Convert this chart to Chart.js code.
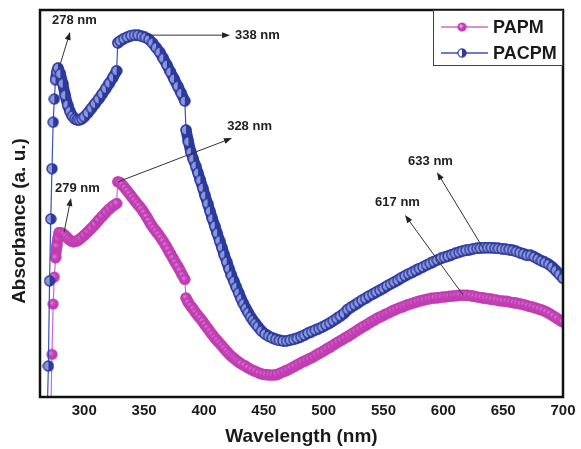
<!DOCTYPE html>
<html>
<head>
<meta charset="utf-8">
<script src="https://cdn.jsdelivr.net/npm/chart.js@4/dist/chart.umd.min.js"></script>
<style>
  html, body { margin: 0; padding: 0; background: #fff; }
  #wrap { width: 581px; height: 449px; }
</style>
</head>
<body>
<div id="wrap"><canvas id="uvChart" width="581" height="449"></canvas></div>
<script>
const seriesNames = ['PAPM', 'PACPM'];
const wavelengthTicks = [300, 350, 400, 450, 500, 550, 600, 650, 700];

// PAPM (pink)
const papmX = [272, 273, 274, 275, 276, 277, 278, 279, 281, 283, 285, 287, 289, 291, 293, 295, 297, 300, 303, 306, 309, 312, 315, 318, 321, 324, 327,
  328, 330, 332, 334, 336, 338, 340, 342, 344, 346, 348, 350, 352, 354, 356, 358, 360, 362, 364, 366, 368, 370, 372, 374, 376, 378, 380, 382, 384,
  385, 387, 389, 391, 393, 395, 397, 399, 401, 403, 405, 407, 409, 411, 413, 415, 417, 419, 421, 423, 425, 427, 429, 431, 434, 437, 440, 443, 446, 449,
  452, 455, 458, 461, 464, 467, 470, 473, 476, 479, 482, 485, 488, 491, 494, 497, 500, 503, 506, 509, 512, 515, 518, 521, 524, 527, 530, 533, 536, 539,
  542, 545, 548, 551, 554, 557, 560, 563, 566, 569, 572, 575, 578, 581, 584, 587, 590, 593, 596, 599, 602, 605, 608, 611, 614, 617, 620, 623, 626, 629,
  632, 635, 638, 641, 644, 647, 650, 653, 656, 659, 662, 665, 668, 671, 674, 677, 680, 683, 686, 689, 692, 695, 698, 700];
const papmY = [-0.05, 0.11, 0.24, 0.31, 0.36, 0.39, 0.41, 0.425, 0.424, 0.42, 0.414, 0.408, 0.403, 0.401, 0.402, 0.405, 0.41, 0.418, 0.427, 0.436, 0.446, 0.457, 0.467, 0.477, 0.486, 0.494, 0.5,
  0.556, 0.554, 0.547, 0.54, 0.532, 0.524, 0.516, 0.508, 0.5, 0.493, 0.485, 0.476, 0.466, 0.455, 0.445, 0.436, 0.428, 0.42, 0.411, 0.402, 0.392, 0.381, 0.37, 0.359, 0.348, 0.338, 0.327, 0.315, 0.304,
  0.256, 0.244, 0.235, 0.227, 0.218, 0.21, 0.203, 0.195, 0.186, 0.178, 0.169, 0.161, 0.153, 0.146, 0.139, 0.132, 0.125, 0.118, 0.111, 0.105, 0.1, 0.095, 0.09, 0.086, 0.081, 0.075, 0.07, 0.066, 0.062, 0.059,
  0.058, 0.057, 0.057, 0.058, 0.062, 0.066, 0.07, 0.075, 0.08, 0.085, 0.09, 0.094, 0.099, 0.103, 0.109, 0.114, 0.119, 0.125, 0.13, 0.136, 0.142, 0.147, 0.153, 0.158, 0.164, 0.17, 0.176, 0.182, 0.187, 0.193,
  0.198, 0.204, 0.208, 0.213, 0.217, 0.222, 0.226, 0.23, 0.233, 0.237, 0.24, 0.243, 0.246, 0.249, 0.251, 0.253, 0.255, 0.256, 0.257, 0.258, 0.259, 0.26, 0.261, 0.262, 0.263, 0.263, 0.263, 0.262, 0.26, 0.258,
  0.257, 0.255, 0.254, 0.252, 0.251, 0.249, 0.248, 0.247, 0.245, 0.244, 0.242, 0.24, 0.238, 0.235, 0.233, 0.23, 0.227, 0.224, 0.22, 0.215, 0.209, 0.203, 0.197, 0.194];

// PACPM (blue)
const pacpmX = [269, 270, 271, 272, 273, 274, 275, 276, 277, 278, 280, 282, 284, 286, 288, 290, 292, 294, 296, 298, 300, 303, 306, 309, 312, 315, 318, 321, 324, 327,
  328, 330, 333, 336, 339, 342, 345, 348, 351, 354, 357, 360, 363, 366, 369, 372, 375, 378, 381, 384,
  385, 387, 389, 391, 393, 395, 397, 399, 401, 403, 405, 407, 409, 411, 413, 415, 417, 419, 421, 423, 425, 427, 429, 431, 433, 435, 437, 439, 441, 443, 445, 448,
  451, 454, 457, 460, 463, 466, 469, 472, 475, 478, 481, 484, 487, 490, 493, 496, 499, 502, 505, 508, 511, 514, 517, 520, 523, 526, 529, 532, 535, 538,
  541, 544, 547, 550, 553, 556, 559, 562, 565, 568, 571, 574, 577, 580, 583, 586, 589, 592, 595, 598, 601, 604, 607, 610, 613, 616, 619, 622, 625, 628,
  631, 634, 637, 640, 643, 646, 649, 652, 655, 658, 661, 664, 667, 670, 673, 676, 679, 682, 685, 688, 691, 694, 697, 700];
const pacpmY = [-0.05, 0.08, 0.3, 0.46, 0.59, 0.71, 0.77, 0.82, 0.84, 0.85, 0.835, 0.81, 0.78, 0.755, 0.738, 0.726, 0.719, 0.716, 0.716, 0.719, 0.724, 0.734, 0.746, 0.758, 0.77, 0.783, 0.797, 0.811, 0.826, 0.843,
  0.915, 0.92, 0.926, 0.93, 0.934, 0.935, 0.935, 0.932, 0.929, 0.924, 0.915, 0.903, 0.891, 0.875, 0.858, 0.84, 0.822, 0.803, 0.785, 0.765,
  0.69, 0.66, 0.633, 0.615, 0.597, 0.579, 0.56, 0.54, 0.52, 0.5, 0.48, 0.461, 0.442, 0.423, 0.404, 0.386, 0.367, 0.349, 0.331, 0.314, 0.299, 0.284, 0.269, 0.254, 0.241, 0.229, 0.218, 0.207, 0.198, 0.19, 0.182, 0.171,
  0.163, 0.157, 0.153, 0.149, 0.146, 0.145, 0.145, 0.147, 0.149, 0.152, 0.156, 0.16, 0.165, 0.169, 0.173, 0.177, 0.181, 0.186, 0.191, 0.197, 0.203, 0.209, 0.216, 0.226, 0.232, 0.238, 0.244, 0.25, 0.255, 0.261,
  0.266, 0.271, 0.276, 0.281, 0.287, 0.292, 0.297, 0.302, 0.308, 0.313, 0.318, 0.322, 0.327, 0.332, 0.336, 0.341, 0.345, 0.35, 0.354, 0.358, 0.361, 0.364, 0.368, 0.371, 0.374, 0.377, 0.379, 0.381, 0.383, 0.384,
  0.385, 0.386, 0.386, 0.386, 0.385, 0.384, 0.383, 0.382, 0.381, 0.379, 0.376, 0.373, 0.37, 0.366, 0.366, 0.362, 0.357, 0.352, 0.348, 0.343, 0.336, 0.327, 0.317, 0.307];

// peak annotations (wavelength, absorbance)
const peakLabels = ['278 nm', '338 nm', '328 nm', '279 nm', '633 nm', '617 nm'];
const arrowFrom = [[279.7, 0.858], [352.4, 0.935], [328.2, 0.556], [283.1, 0.426], [633.2, 0.385], [616.4, 0.264]];
const arrowTo = [[288.1, 0.943], [421.8, 0.935], [423.4, 0.669], [288.9, 0.514], [594.7, 0.581], [568.0, 0.470]];
const labelAt = [[291.8, 0.974], [444.7, 0.934], [438.1, 0.698], [294.3, 0.539], [589.3, 0.610], [561.7, 0.504]];

const pinkMarker = '#c23db4';
const pinkLine = '#d366ca';
const blueMarker = '#2b3a9f';
const blueLine = '#3a4ec4';

function sphereMarker(color, shine) {
    const c = document.createElement('canvas');
    c.width = 12; c.height = 12;
    const g = c.getContext('2d');
    const grad = g.createRadialGradient(4.5, 4.5, 0.5, 6, 6, 6);
    grad.addColorStop(0, shine);
    grad.addColorStop(0.45, color);
    grad.addColorStop(1, color);
    g.beginPath();
    g.arc(6, 6, 5.6, 0, Math.PI * 2);
    g.fillStyle = grad;
    g.fill();
    return c;
}

function halfMarker(color, blank) {
    const c = document.createElement('canvas');
    c.width = 12; c.height = 12;
    const g = c.getContext('2d');
    g.beginPath();
    g.arc(6, 6, 5, 0, Math.PI * 2);
    g.fillStyle = blank;
    g.fill();
    g.beginPath();
    g.arc(6, 6, 5, -Math.PI / 2, Math.PI / 2);
    g.closePath();
    g.fillStyle = color;
    g.fill();
    g.beginPath();
    g.arc(6, 6, 5, 0, Math.PI * 2);
    g.strokeStyle = color;
    g.lineWidth = 1.4;
    g.stroke();
    return c;
}

const papmPoint = sphereMarker(pinkMarker, '#f2b8ec');
const papmDataPoint = sphereMarker(pinkMarker, '#d77ccd');
const pacpmPoint = halfMarker(blueMarker, '#ffffff');
const pacpmDataPoint = halfMarker(blueMarker, '#8d97d8');

// long segments (jumps) stay thin, the dense runs form a thick band
function bandWidth(c) {
    const d = Math.hypot(c.p1.x - c.p0.x, c.p1.y - c.p0.y);
    return d > 13 ? 1.2 : 11;
}

const framePlugin = {
    id: 'frame',
    afterDraw(chart) {
        const ctx = chart.ctx;
        const a = chart.chartArea;
        const xs = chart.scales.x, ys = chart.scales.y;
        ctx.save();

        // peak arrows and labels
        ctx.strokeStyle = '#333';
        ctx.fillStyle = '#222';
        ctx.lineWidth = 1;
        for (let i = 0; i < peakLabels.length; i++) {
            const x0 = xs.getPixelForValue(arrowFrom[i][0]), y0 = ys.getPixelForValue(arrowFrom[i][1]);
            const x1 = xs.getPixelForValue(arrowTo[i][0]), y1 = ys.getPixelForValue(arrowTo[i][1]);
            const ang = Math.atan2(y1 - y0, x1 - x0);
            ctx.beginPath();
            ctx.moveTo(x0, y0);
            ctx.lineTo(x1 - 6 * Math.cos(ang), y1 - 6 * Math.sin(ang));
            ctx.stroke();
            ctx.beginPath();
            ctx.moveTo(x1, y1);
            ctx.lineTo(x1 - 8 * Math.cos(ang) + 3 * Math.sin(ang), y1 - 8 * Math.sin(ang) - 3 * Math.cos(ang));
            ctx.lineTo(x1 - 8 * Math.cos(ang) - 3 * Math.sin(ang), y1 - 8 * Math.sin(ang) + 3 * Math.cos(ang));
            ctx.closePath();
            ctx.fill();
            ctx.font = 'bold 13px "Liberation Sans", Arial, sans-serif';
            ctx.textAlign = 'center';
            ctx.textBaseline = 'middle';
            ctx.fillText(peakLabels[i], xs.getPixelForValue(labelAt[i][0]), ys.getPixelForValue(labelAt[i][1]));
        }

        // plot frame
        ctx.strokeStyle = '#111';
        ctx.lineWidth = 2.5;
        ctx.strokeRect(a.left, a.top, a.right - a.left, a.bottom - a.top);

        // legend box in the top right corner
        const lx = a.right - 130, ly = a.top, lw = 130, lh = 56;
        ctx.fillStyle = '#fff';
        ctx.fillRect(lx, ly, lw, lh);
        ctx.strokeStyle = '#444';
        ctx.lineWidth = 1;
        ctx.strokeRect(lx + 0.5, ly + 0.5, lw - 1, lh - 1);
        const lines = [pinkLine, blueLine];
        const marks = [papmPoint, pacpmPoint];
        ctx.font = 'bold 18px "Liberation Sans", Arial, sans-serif';
        ctx.textAlign = 'left';
        ctx.textBaseline = 'middle';
        for (let i = 0; i < seriesNames.length; i++) {
            const cy = ly + 17 + i * 26;
            ctx.strokeStyle = lines[i];
            ctx.lineWidth = 1.5;
            ctx.beginPath();
            ctx.moveTo(lx + 8, cy);
            ctx.lineTo(lx + 55, cy);
            ctx.stroke();
            ctx.drawImage(marks[i], lx + 24, cy - 5, 10, 10);
            ctx.fillStyle = '#1a1a1a';
            ctx.fillText(seriesNames[i], lx + 60, cy + 1);
        }

        // y axis title
        ctx.save();
        ctx.translate(20, 221);
        ctx.rotate(-Math.PI / 2);
        ctx.font = 'bold 19px "Liberation Sans", Arial, sans-serif';
        ctx.textAlign = 'center';
        ctx.textBaseline = 'middle';
        ctx.fillStyle = '#1a1a1a';
        ctx.fillText('Absorbance (a. u.)', 0, 0);
        ctx.restore();

        ctx.restore();
    }
};

const ctx = document.getElementById('uvChart').getContext('2d');
const uvChart = new Chart(ctx, {
    type: 'line',
    data: {
        datasets: [{
            label: seriesNames[0],
            data: papmX.map((x, i) => ({ x: x, y: papmY[i] })),
            borderColor: pinkLine,
            borderWidth: 1.2,
            borderCapStyle: 'round',
            borderJoinStyle: 'round',
            segment: {
                borderWidth: bandWidth,
                borderColor: c => bandWidth(c) > 2 ? pinkMarker : pinkLine
            },
            pointStyle: papmDataPoint,
            pointRadius: 6,
            pointHoverRadius: 6,
            order: 2
        }, {
            label: seriesNames[1],
            data: pacpmX.map((x, i) => ({ x: x, y: pacpmY[i] })),
            borderColor: blueLine,
            borderWidth: 1.2,
            borderCapStyle: 'round',
            borderJoinStyle: 'round',
            segment: {
                borderWidth: bandWidth,
                borderColor: c => bandWidth(c) > 2 ? blueMarker : blueLine
            },
            pointStyle: pacpmDataPoint,
            pointRadius: 6,
            pointHoverRadius: 6,
            order: 1
        }]
    },
    options: {
        responsive: false,
        animation: false,
        layout: { padding: { left: 40, right: 18, top: 10, bottom: 0 } },
        plugins: {
            legend: { display: false },
            tooltip: { enabled: false }
        },
        scales: {
            x: {
                type: 'linear',
                min: 263,
                max: 700,
                grid: { display: false, drawTicks: false },
                border: { display: false },
                afterBuildTicks: (scale) => {
                    scale.ticks = wavelengthTicks.map(v => ({ value: v }));
                },
                afterFit: (scale) => { scale.height = 52; },
                ticks: {
                    padding: 5,
                    maxRotation: 0,
                    color: '#1a1a1a',
                    font: { family: '"Liberation Sans", Arial, sans-serif', size: 15, weight: 'bold' }
                },
                title: {
                    display: true,
                    text: 'Wavelength (nm)',
                    color: '#1a1a1a',
                    padding: { top: 0, bottom: 1 },
                    font: { family: '"Liberation Sans", Arial, sans-serif', size: 19, weight: 'bold' }
                }
            },
            y: {
                display: false,
                min: 0,
                max: 1
            }
        }
    },
    plugins: [framePlugin]
});
</script>
</body>
</html>
